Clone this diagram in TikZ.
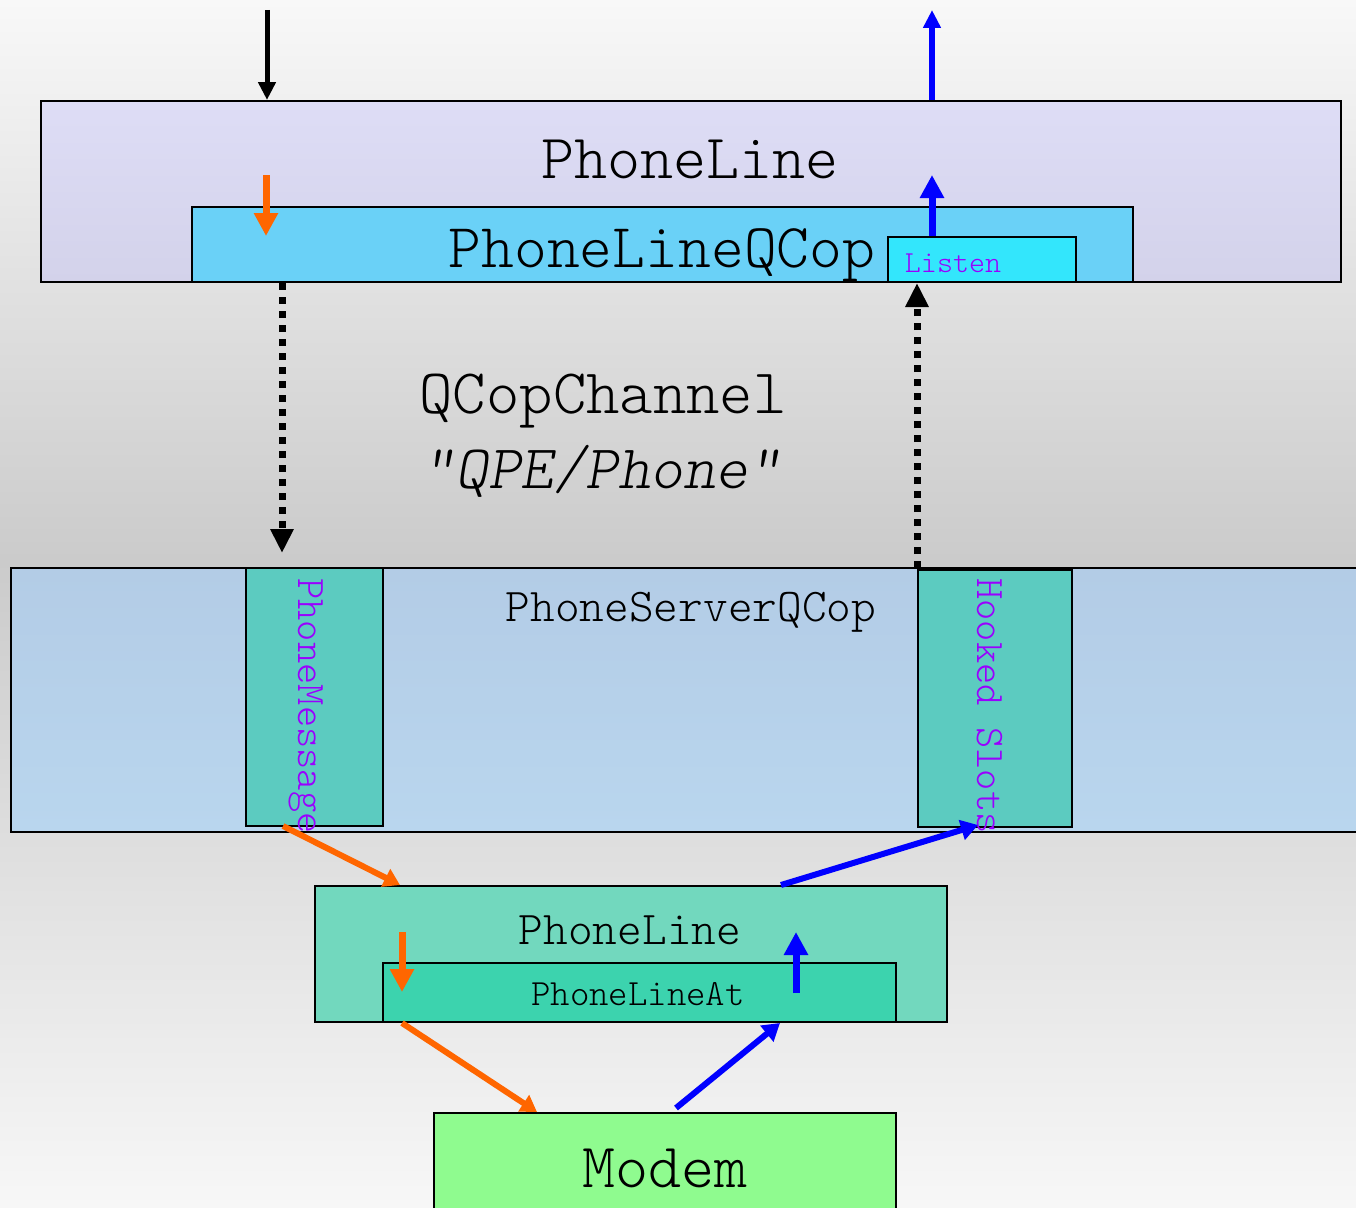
\documentclass[tikz,border=0pt]{standalone}
\usepackage{fontspec}
\setmonofont{Latin Modern Mono Light}
\usetikzlibrary{arrows.meta}

\definecolor{bgtop}{HTML}{F8F8F8}
\definecolor{bgmid}{HTML}{CBCBCB}
\definecolor{bgbot}{HTML}{F7F7F7}
\definecolor{lavtop}{HTML}{DEDDF6}
\definecolor{lavbot}{HTML}{D3D2EA}
\definecolor{qcopblue}{HTML}{6AD1F7}
\definecolor{listencyan}{HTML}{33E6FC}
\definecolor{servtop}{HTML}{B3CCE6}
\definecolor{servbot}{HTML}{B9D6EE}
\definecolor{slotteal}{HTML}{5CCBC0}
\definecolor{linegreen}{HTML}{72D8BE}
\definecolor{atgreen}{HTML}{3CD3AE}
\definecolor{modemgreen}{HTML}{8FFB8F}
\definecolor{sigorange}{HTML}{FF6600}
\definecolor{sigblue}{HTML}{0000FF}
\definecolor{labelpurple}{HTML}{9900FF}

\newcommand{\lbl}[1]{\ttfamily\fontsize{#1}{#1}\selectfont}

\tikzset{
  box/.style={draw=black, line width=2pt, rectangle, inner sep=0pt, anchor=north west},
  txt/.style={inner sep=0pt, anchor=base},
  vtxt/.style={inner sep=0pt, anchor=base, rotate=-90, text=labelpurple},
  blackarrow/.style={draw=black, line width=5pt, -{Triangle[length=18pt,width=17pt]}},
  outarrow/.style={draw=sigblue, line width=6pt, -{Triangle[length=18pt,width=17pt]}},
  bluearrow/.style={draw=sigblue, line width=7pt, -{Triangle[length=23pt,width=23pt]}},
  orangearrow/.style={draw=sigorange, line width=7pt, -{Triangle[length=23pt,width=23pt]}},
  diagblue/.style={draw=sigblue, line width=6pt, -{Triangle[length=17pt,width=20pt]}},
  diagorange/.style={draw=sigorange, line width=6pt, -{Triangle[length=16pt,width=19pt]}},
  channel/.style={draw=black, line width=7pt, dash pattern=on 7pt off 7pt,
    -{Triangle[length=24pt,width=22pt]}},
}

\begin{document}
\begin{tikzpicture}[x=1pt,y=-1pt]
\useasboundingbox (0,0) rectangle (1356,1207);

% background gradient: light at top and bottom, grey in the middle
\shade[top color=bgtop, bottom color=bgmid] (0,0) rectangle (1356,560);
\shade[top color=bgmid, bottom color=bgbot] (0,560) rectangle (1356,1207);

% client side
\node[box, top color=lavtop, bottom color=lavbot,
      minimum width=1300pt, minimum height=181pt] (phoneline) at (40,100) {};
\node[box, fill=qcopblue, minimum width=941pt, minimum height=75pt] (qcop) at (191,206) {};
\node[box, fill=listencyan, minimum width=188pt, minimum height=45pt] (listen) at (887,236) {};

\node[txt] (tPhoneLine) at (690,178) {\lbl{63}PhoneLine};
\node[txt] (tQCop) at (662,267) {\lbl{62.5}PhoneLineQCop};
\node[txt, text=labelpurple] (tListen) at (953,272) {\lbl{30.5}Listen};

% channel label
\node[txt] (tChannel) at (603,413) {\lbl{63.5}QCopChannel};
\node[txt] (tChanName) at (602,488) {\lbl{62}\itshape "QPE/Phone"};

% server side
\node[box, top color=servtop, bottom color=servbot,
      minimum width=1360pt, minimum height=264pt] (server) at (10,567) {};
\node[txt] (tServer) at (691,621) {\lbl{47}PhoneServerQCop};
\node[box, fill=slotteal, minimum width=137pt, minimum height=258pt] (phonemsg) at (245,567) {};
\node[box, fill=slotteal, minimum width=154pt, minimum height=257pt] (hooked) at (917,569) {};
\node[vtxt] (tPhoneMsg) at (298,706) {\lbl{40.5}PhoneMessage};
\node[vtxt] (tHooked) at (977,706) {\lbl{40.5}Hooked Slots};

% line implementation
\node[box, fill=linegreen, minimum width=632pt, minimum height=136pt] (lowline) at (314,885) {};
\node[box, fill=atgreen, minimum width=513pt, minimum height=59pt] (lineat) at (382,962) {};
\node[txt] (tLowLine) at (630,944) {\lbl{47}PhoneLine};
\node[txt] (tLineAt) at (638,1005) {\lbl{37}PhoneLineAt};

\node[box, fill=modemgreen, minimum width=462pt, minimum height=110pt] (modem) at (433,1112) {};
\node[txt] (tModem) at (665,1187) {\lbl{63}Modem};

% free ends of the connectors
\coordinate (reqIn) at (267,10);
\coordinate (evOut) at (932,10);
\coordinate (reqTop) at (266,175);
\coordinate (reqTopEnd) at (266,236);
\coordinate (evTop) at (932,236);
\coordinate (evTopEnd) at (932,175);
\coordinate (chanDown) at (282,553);
\coordinate (chanUp) at (917,568);
\coordinate (msgOut) at (283,826);
\coordinate (slotIn) at (978,825);
\coordinate (reqLow) at (402,932);
\coordinate (reqLowEnd) at (402,992);
\coordinate (evLow) at (796,993);
\coordinate (evLowEnd) at (796,932);
\coordinate (evModem) at (676,1108);

% requests going down
\draw[blackarrow] (reqIn) -- (reqIn |- phoneline.north);
\draw[orangearrow] (reqTop) -- (reqTopEnd);
\draw[channel] (qcop.south -| chanDown) -- (chanDown);
\draw[diagorange] (msgOut) -- (lowline.north -| 400,0);
\draw[orangearrow] (reqLow) -- (reqLowEnd);
\draw[diagorange] (lineat.south -| 402,0) -- (modem.north -| 537,0);

% events going up
\draw[diagblue] (evModem) -- (lineat.south -| 780,0);
\draw[bluearrow] (evLow) -- (evLowEnd);
\draw[diagblue] (lowline.north -| 781,0) -- (slotIn);
\draw[channel] (chanUp) -- (listen.south -| chanUp);
\draw[bluearrow] (evTop) -- (evTopEnd);
\draw[outarrow] (phoneline.north -| evOut) -- (evOut);
\end{tikzpicture}
\end{document}
